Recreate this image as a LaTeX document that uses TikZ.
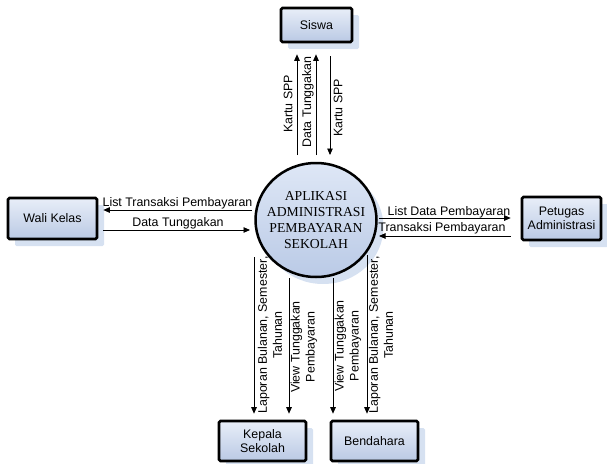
\documentclass[tikz,border=0pt]{standalone}
\usepackage{fontspec}
\setmainfont{Liberation Sans}
\newfontfamily\circfont{Liberation Serif}
\usetikzlibrary{arrows.meta,calc,shadows,shapes.geometric}
\definecolor{shadowc}{RGB}{214,225,241}
\definecolor{boxtop}{RGB}{232,238,248}
\definecolor{boxbot}{RGB}{186,201,228}
\definecolor{circtop}{RGB}{222,231,246}
\definecolor{circbot}{RGB}{186,202,230}
\begin{document}
\begin{tikzpicture}[x=1pt,y=-1pt,
  ent/.style={draw=black, line width=2.6pt, rounded corners=1.5pt,
    top color=boxtop, bottom color=boxbot, inner sep=0pt, align=center,
    font=\fontsize{12.4}{14.5}\selectfont,
    general shadow={shadow xshift=7pt, shadow yshift=-7pt, fill=shadowc, draw=none}},
  proc/.style={ellipse, draw=black, line width=2.5pt, inner sep=0pt,
    top color=circtop, bottom color=circbot,
    general shadow={shadow xshift=7pt, shadow yshift=-7pt, fill=shadowc, draw=none}},
  proctext/.style={inner sep=0pt, align=center,
    font=\circfont\fontsize{13.7}{16.3}\selectfont},
  flow/.style={draw=black, line width=0.9pt, -{Triangle[length=6.5pt,width=5.5pt]}},
  lab/.style={font=\fontsize{12.4}{15}\selectfont, inner sep=0pt, align=center},
  vlab/.style={lab, rotate=90}]
\useasboundingbox (0,0) rectangle (607,463);

\node[proc, minimum width=121pt, minimum height=114pt] (circ) at (316,220) {};
\node[proctext] (circt) at (circ.center) {APLIKASI\\ADMINISTRASI\\PEMBAYARAN\\SEKOLAH};
\node[ent, minimum width=71pt, minimum height=34pt] (siswa) at (316.5,25) {Siswa};
\node[ent, minimum width=89pt, minimum height=41pt] (wali) at (52.5,218.5) {Wali Kelas};
\node[ent, minimum width=79pt, minimum height=43pt] (petugas) at (561.5,218.5) {Petugas\\Administrasi};
\node[ent, minimum width=87pt, minimum height=40pt] (kepala) at (262.5,441) {Kepala\\Sekolah};
\node[ent, minimum width=87pt, minimum height=40pt] (bend) at (374.5,441) {Bendahara};

% top
\draw[flow] ($(circ.center)+(-19,-65)$) -- ($(siswa.south)+(-19.5,11)$);
\draw[flow] ($(circ.center)+(0,-65)$) -- ($(siswa.south)+(-0.5,11)$);
\draw[flow] ($(siswa.south)+(13.5,13)$) -- ($(circ.center)+(14,-65)$);
\node[vlab] (l1) at (288,104) {Kartu SPP};
\node[vlab] (l2) at (308,102) {Data Tunggakan};
\node[vlab] (l3) at (338,108) {Kartu SPP};

% left
\draw[flow] ($(circ.center)+(-64,-10)$) -- ($(wali.east)+(5,-8.5)$);
\draw[flow] ($(wali.east)+(5,11.5)$) -- ($(circ.center)+(-66,10)$);
\node[lab] (l4) at (177.5,203) {List Transaksi Pembayaran};
\node[lab] (l5) at (178,223) {Data Tunggakan};

% right
\draw[flow] ($(circ.center)+(63,-2)$) -- ($(petugas.west)+(-10,-0.5)$);
\draw[flow] ($(petugas.west)+(-10,17.5)$) -- ($(circ.center)+(63,16)$);
\node[lab] (l6) at (449,212) {List Data Pembayaran};
\node[lab] (l7) at (442,228) {Transaksi Pembayaran};

% bottom
\draw[flow] ($(circ.center)+(-62,37)$) -- ($(kepala.north)+(-8.5,-6)$);
\draw[flow] ($(circ.center)+(-27,58)$) -- ($(kepala.north)+(26.5,-6)$);
\draw[flow] ($(circ.center)+(17,58)$) -- ($(bend.north)+(-41.5,-6)$);
\draw[flow] ($(circ.center)+(51,35)$) -- ($(bend.north)+(-7.5,-6)$);
\node[vlab] (l8) at (270,335) {Laporan Bulanan, Semester,\\Tahunan};
\node[vlab] (l9) at (304,347) {View Tunggakan\\Pembayaran};
\node[vlab] (l10) at (348,346) {View Tunggakan\\Pembayaran};
\node[vlab] (l11) at (381,335) {Laporan Bulanan, Semester,\\Tahunan};
\end{tikzpicture}
\end{document}
